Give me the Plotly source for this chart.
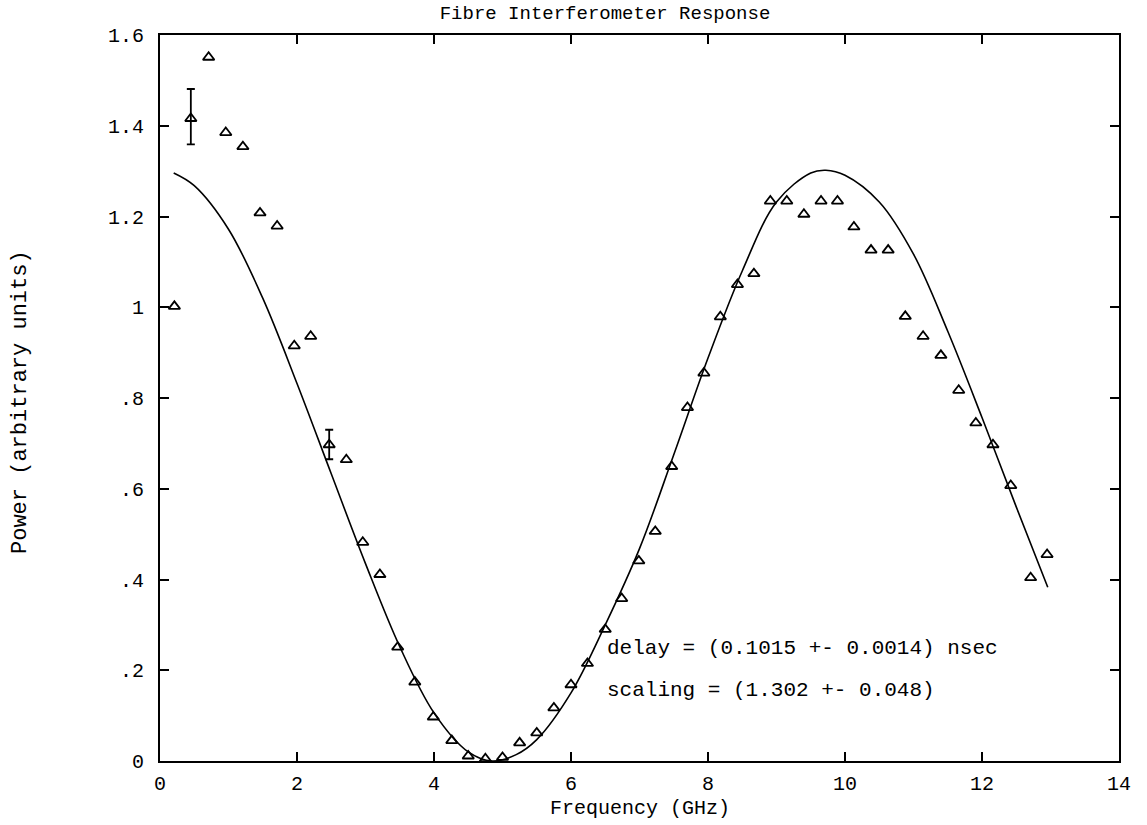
import plotly.graph_objects as go

# measured points (frequency in GHz, power in arbitrary units)
freq = [0.21, 0.45, 0.71, 0.96, 1.21, 1.46, 1.71, 1.96, 2.20, 2.47, 2.72, 2.96, 3.21,
        3.47, 3.72, 3.99, 4.26, 4.50, 4.75, 5.00, 5.25, 5.50, 5.75, 6.00, 6.24, 6.50,
        6.74, 6.99, 7.23, 7.47, 7.70, 7.94, 8.18, 8.43, 8.67, 8.91, 9.15, 9.40, 9.65,
        9.89, 10.13, 10.38, 10.63, 10.88, 11.14, 11.40, 11.66, 11.91, 12.16, 12.42,
        12.71, 12.95]
power = [1.002, 1.416, 1.551, 1.385, 1.354, 1.208, 1.179, 0.915, 0.936, 0.697, 0.664,
         0.482, 0.411, 0.251, 0.174, 0.097, 0.045, 0.011, 0.005, 0.008, 0.040, 0.062,
         0.117, 0.168, 0.215, 0.290, 0.358, 0.441, 0.506, 0.649, 0.779, 0.855, 0.979,
         1.050, 1.074, 1.234, 1.234, 1.205, 1.234, 1.234, 1.177, 1.126, 1.126, 0.980,
         0.936, 0.894, 0.817, 0.745, 0.697, 0.607, 0.404, 0.455]

# points with error bars
err_freq = [0.45, 2.47]
err_power = [1.416, 0.697]
err_plus = [0.065, 0.033]
err_minus = [0.057, 0.032]

# fitted curve
fit_freq = [0.20, 0.50, 1.00, 1.50, 2.00, 2.50, 3.00, 3.50, 4.00, 4.50, 4.85, 5.20,
            5.50, 6.00, 6.50, 7.00, 7.50, 8.00, 8.50, 9.00, 9.50, 9.72, 10.00, 10.50,
            11.00, 11.50, 12.00, 12.50, 12.96]
fit_power = [1.296, 1.268, 1.172, 1.020, 0.832, 0.633, 0.435, 0.252, 0.106, 0.020,
             0.000, 0.014, 0.047, 0.150, 0.300, 0.468, 0.675, 0.888, 1.080, 1.232,
             1.296, 1.302, 1.291, 1.232, 1.117, 0.947, 0.757, 0.560, 0.383]

x_ticks = [0, 2, 4, 6, 8, 10, 12, 14]
y_ticks = [0, 0.2, 0.4, 0.6, 0.8, 1.0, 1.2, 1.4, 1.6]
y_ticktext = ["0", ".2", ".4", ".6", ".8", "1", "1.2", "1.4", "1.6"]

FONT = "Liberation Mono, Courier New, monospace"

W, H = 1147, 825
L, R, T, B = 160, 28, 35, 64
pw, ph = W - L - R, H - T - B

fig = go.Figure()
fig.add_trace(go.Scatter(x=fit_freq, y=fit_power, mode="lines",
                         line=dict(color="black", width=1.6, shape="spline", smoothing=1.0),
                         hoverinfo="skip", showlegend=False))
fig.add_trace(go.Scatter(x=err_freq, y=err_power, mode="markers",
                         marker=dict(size=1, color="rgba(0,0,0,0)"),
                         error_y=dict(type="data", array=err_plus, arrayminus=err_minus,
                                      color="black", thickness=1.8, width=4),
                         showlegend=False))
fig.add_trace(go.Scatter(x=freq, y=power, mode="markers",
                         marker=dict(symbol="triangle-up-open", size=10, color="black",
                                     line=dict(width=1.8, color="black")),
                         showlegend=False))

fig.add_annotation(x=6.5, y=0.248, xref="x", yref="y", xanchor="left", yanchor="middle",
                   text="delay = (0.1015 +- 0.0014) nsec", showarrow=False,
                   font=dict(family=FONT, size=21, color="black"))
fig.add_annotation(x=6.5, y=0.155, xref="x", yref="y", xanchor="left", yanchor="middle",
                   text="scaling = (1.302 +- 0.048)", showarrow=False,
                   font=dict(family=FONT, size=21, color="black"))

# axis titles as paper-positioned annotations
fig.add_annotation(x=(640 - L) / pw, y=(H - B - 808) / ph, xref="paper", yref="paper",
                   xanchor="center", yanchor="middle", showarrow=False,
                   text="Frequency (GHz)", font=dict(family=FONT, size=20, color="black"))
fig.add_annotation(x=(20 - L) / pw, y=(H - B - 402) / ph, xref="paper", yref="paper",
                   xanchor="center", yanchor="middle", showarrow=False, textangle=-90,
                   text="Power (arbitrary units)", font=dict(family=FONT, size=22, color="black"))

axis_common = dict(showgrid=False, zeroline=False, showline=True, linecolor="black",
                   linewidth=2, mirror="ticks", ticks="inside", ticklen=9,
                   tickwidth=1.5, tickcolor="black",
                   tickfont=dict(family=FONT, size=20, color="black"))

fig.update_layout(
    width=W, height=H,
    margin=dict(l=L, r=R, t=T, b=B, autoexpand=False),
    paper_bgcolor="white", plot_bgcolor="white",
    title=dict(text="Fibre Interferometer Response", x=605 / W,
               xanchor="center", y=1 - 12 / H, yref="container", yanchor="middle",
               font=dict(family=FONT, size=19, color="black")),
    xaxis=dict(range=[0, 14], tickvals=x_ticks, ticklabelstandoff=3, **axis_common),
    yaxis=dict(range=[0, 1.6], tickvals=y_ticks, ticktext=y_ticktext,
               ticklabelstandoff=10, **axis_common),
)

fig.write_html("out.html")
